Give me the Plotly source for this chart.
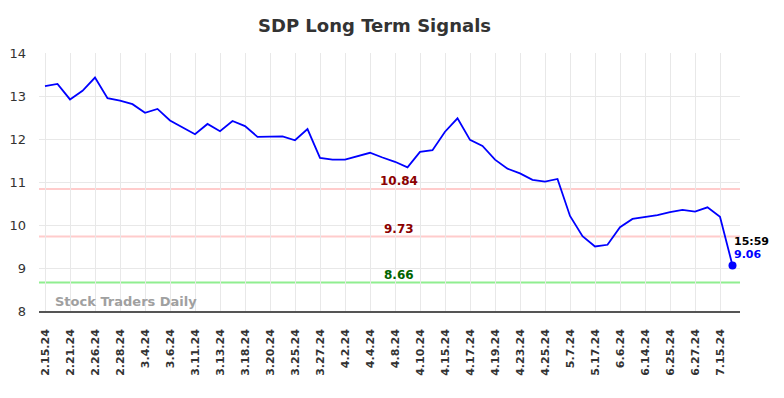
import plotly.graph_objects as go

tick_labels = ["2.15.24", "2.21.24", "2.26.24", "2.28.24", "3.4.24", "3.6.24", "3.11.24",
               "3.13.24", "3.18.24", "3.20.24", "3.25.24", "3.27.24", "4.2.24", "4.4.24",
               "4.8.24", "4.10.24", "4.15.24", "4.17.24", "4.19.24", "4.23.24", "4.25.24",
               "5.7.24", "5.17.24", "6.6.24", "6.14.24", "6.25.24", "6.27.24", "7.15.24"]

prices = [13.23, 13.28, 12.92, 13.12, 13.43, 12.95, 12.89, 12.81, 12.61, 12.70,
          12.43, 12.27, 12.11, 12.35, 12.18, 12.42, 12.30, 12.05, 12.06, 12.06,
          11.97, 12.23, 11.56, 11.52, 11.52, 11.60, 11.68, 11.57, 11.47, 11.34,
          11.70, 11.74, 12.17, 12.48, 11.98, 11.84, 11.52, 11.31, 11.20, 11.05,
          11.01, 11.07, 10.21, 9.74, 9.50, 9.54, 9.95, 10.14, 10.19, 10.23,
          10.30, 10.35, 10.31, 10.41, 10.19, 9.06]

levels = [10.84, 9.73, 8.66]
level_line_colors = ["#ffcccc", "#ffcccc", "#90ee90"]
level_text_colors = ["#8b0000", "#8b0000", "#006400"]
last_time = "15:59"

x = list(range(len(prices)))
tickvals = list(range(0, len(prices), 2))[:len(tick_labels)]

FONT = "DejaVu Sans"
fig = go.Figure()

fig.add_trace(go.Scatter(x=x, y=prices, mode="lines",
                         line=dict(color="#0000ff", width=1.8),
                         hoverinfo="skip", showlegend=False))
fig.add_trace(go.Scatter(x=[x[-1]], y=[prices[-1]], mode="markers",
                         marker=dict(color="#0000ff", size=8),
                         hoverinfo="skip", showlegend=False))

mid_x = 28.3
for lv, lc, tc in zip(levels, level_line_colors, level_text_colors):
    fig.add_shape(type="line", xref="paper", x0=0, x1=1, yref="y", y0=lv, y1=lv,
                  line=dict(color=lc, width=2), layer="below")
    fig.add_annotation(x=mid_x, y=lv, xref="x", yref="y", text="<b>%.2f</b>" % lv,
                       showarrow=False, yanchor="bottom", yshift=-1,
                       font=dict(family=FONT, size=12, color=tc))

fig.add_annotation(x=x[-1], y=prices[-1], xref="x", yref="y", text="<b>%s</b>" % last_time,
                   showarrow=False, xanchor="left", yanchor="bottom", xshift=-1, yshift=15,
                   font=dict(family=FONT, size=11, color="#000000"))
fig.add_annotation(x=x[-1], y=prices[-1], xref="x", yref="y", text="<b>%.2f</b>" % prices[-1],
                   showarrow=False, xanchor="left", yanchor="bottom", xshift=-1, yshift=2,
                   font=dict(family=FONT, size=11, color="#0000ff"))

fig.add_annotation(x=0.02, y=8.0, xref="paper", yref="y", text="<b>Stock Traders Daily</b>",
                   showarrow=False, xanchor="left", yanchor="bottom", yshift=0,
                   font=dict(family=FONT, size=13, color="#a0a0a0"))

fig.update_layout(
    width=776, height=390,
    margin=dict(l=31, r=44, t=45, b=87),
    paper_bgcolor="white", plot_bgcolor="white",
    title=dict(text="<b>SDP Long Term Signals</b>", x=0.4723, xanchor="center",
               y=0.954, yanchor="middle",
               font=dict(family=FONT, size=18, color="#333333")),
    font=dict(family=FONT),
    xaxis=dict(range=[-0.48, 55.6], tickmode="array", tickvals=tickvals,
               ticktext=["<b>%s</b>" % t for t in tick_labels], tickangle=-90,
               tickfont=dict(family=FONT, size=11, color="#333333"),
               ticklabelstandoff=12,
               showgrid=True, gridcolor="#e8e8e8", gridwidth=1,
               zeroline=False, showline=True, linecolor="#555555", linewidth=1.5,
               ticks="", fixedrange=True, automargin=False),
    yaxis=dict(range=[8, 14], tickvals=[8, 9, 10, 11, 12, 13, 14],
               tickfont=dict(family=FONT, size=13, color="#333333"),
               ticklabelstandoff=12,
               showgrid=True, gridcolor="#e8e8e8", gridwidth=1,
               zeroline=False, showline=False, ticks="", fixedrange=True, automargin=False),
)

fig.write_html("out.html")
